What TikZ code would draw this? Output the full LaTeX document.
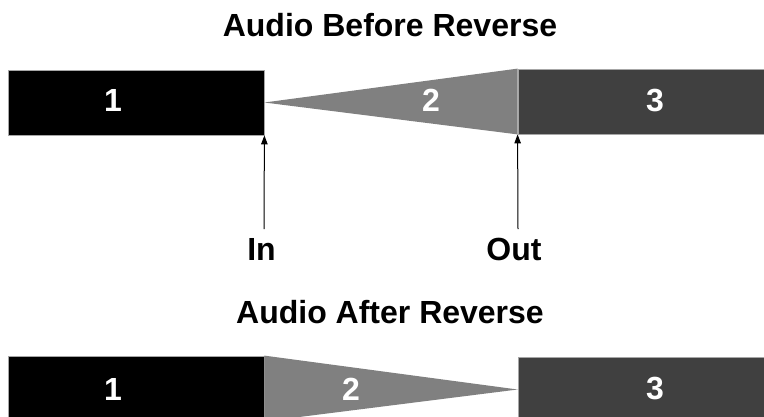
\documentclass[tikz,border=0pt]{standalone}
\usepackage{fontspec}
\setmainfont{Liberation Sans}
\usetikzlibrary{arrows.meta}
\tikzset{
  segbox/.style={draw=black!35, line width=0.8pt, inner sep=0pt, minimum height=65pt},
  segnum/.style={text=white, font=\bfseries\fontsize{32}{32}\selectfont},
  wedge/.style={fill=black!50},
  heading/.style={anchor=base, font=\bfseries\fontsize{32}{32}\selectfont},
  pointer/.style={line width=1pt, -{Triangle[length=9pt, width=6.5pt]}}
}
\begin{document}
\begin{tikzpicture}[x=1pt, y=-1pt]
\clip (0, 0) rectangle (764, 416);
\fill[white] (0, 0) rectangle (764, 416);
\node[heading] (titlebefore) at (390, 36.5) {Audio Before Reverse};
\node[segbox, fill=black, minimum width=256pt] (oneb) at (136, 102.5) {};
\node[segbox, fill=black!75, minimum width=252pt] (threeb) at (644, 101.5) {};
\fill[wedge] (oneb.east) -- (threeb.north west) -- (threeb.south west) -- cycle;
\node[segnum] (numoneb) at (113, 100.5) {1};
\node[segnum] (numtwob) at (431, 100.5) {2};
\node[segnum] (numthreeb) at (655, 100.5) {3};
\coordinate (instart) at (264, 229);
\coordinate (outstart) at (518, 229);
\draw[pointer] (instart) -- (oneb.south east);
\draw[pointer] (outstart) -- (threeb.south west);
\node[heading] (inlabel) at (261.5, 260) {In};
\node[heading] (outlabel) at (514, 260) {Out};
\node[heading] (titleafter) at (390, 323) {Audio After Reverse};
\node[segbox, fill=black, minimum width=256pt] (onea) at (136, 388.5) {};
\node[segbox, fill=black!75, minimum width=252pt] (threea) at (644, 389.5) {};
\fill[wedge] (onea.north east) -- (threea.west) -- (onea.south east) -- cycle;
\node[segnum] (numonea) at (113, 389) {1};
\node[segnum] (numtwoa) at (351, 389) {2};
\node[segnum] (numthreea) at (655, 389) {3};
\end{tikzpicture}
\end{document}
